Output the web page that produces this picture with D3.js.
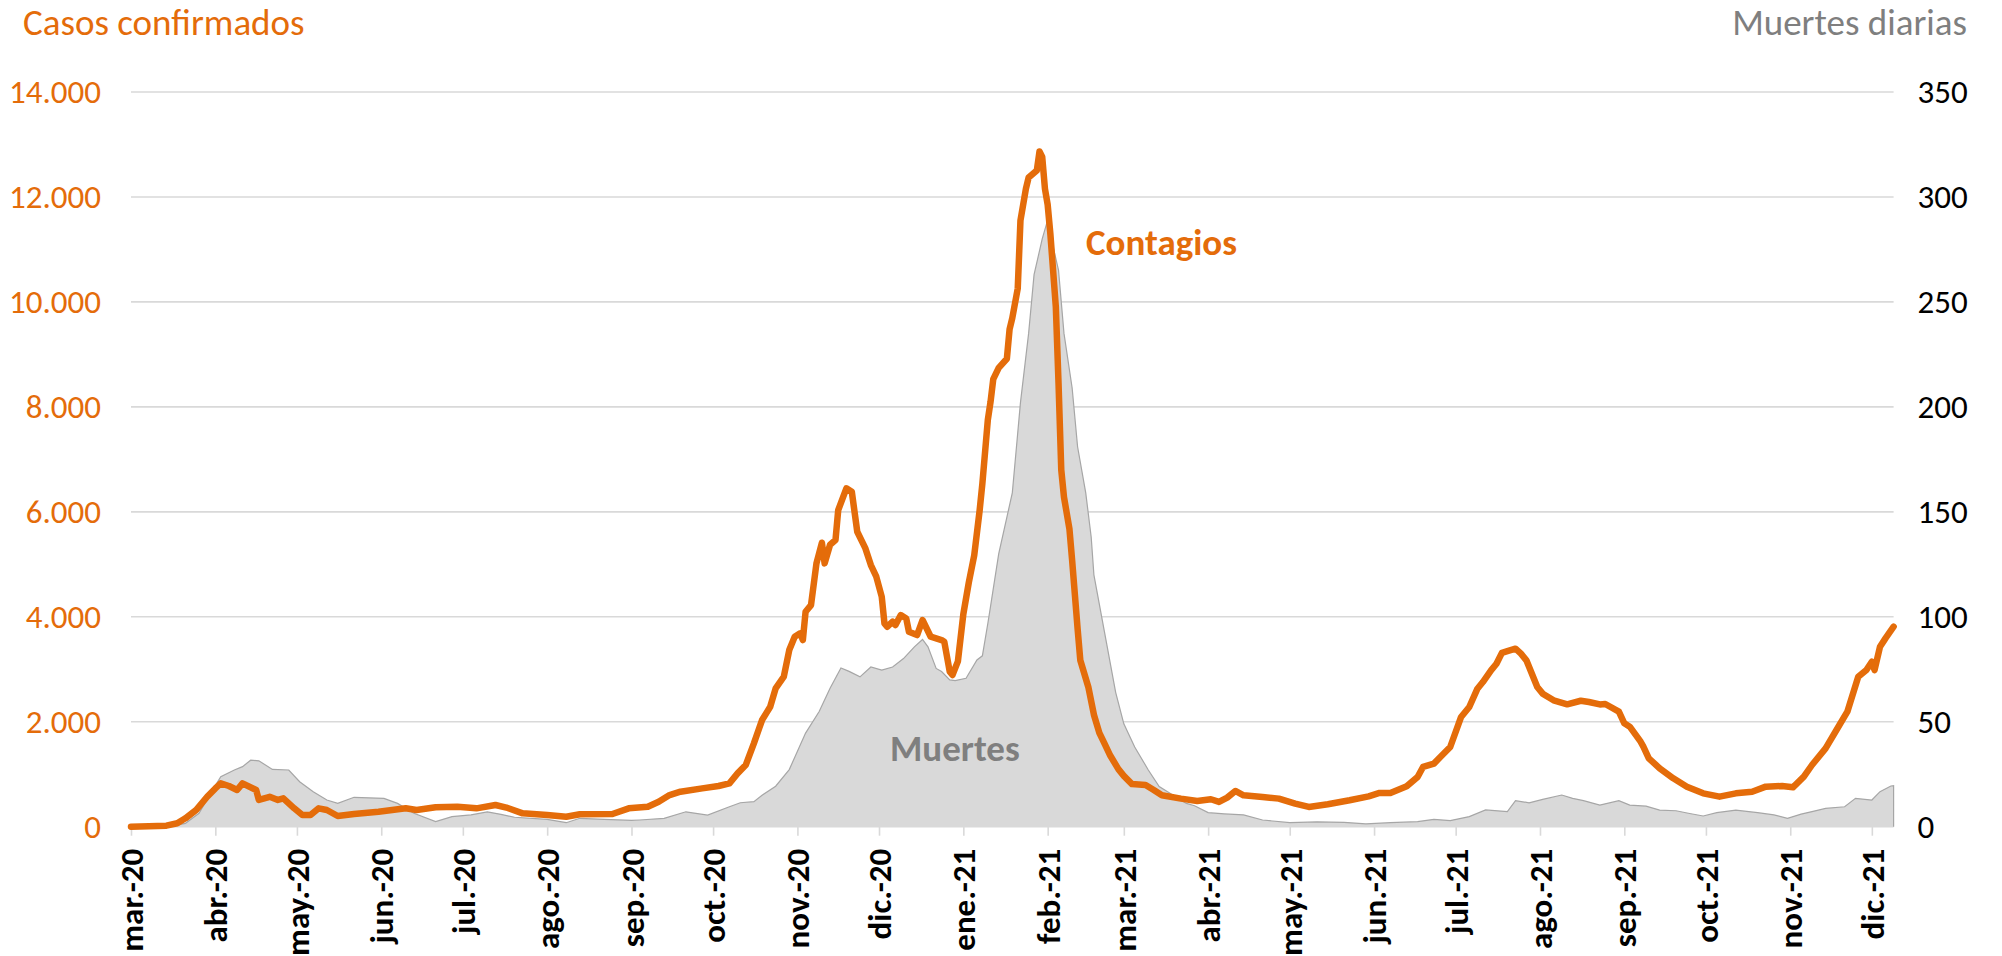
<!DOCTYPE html>
<html>
<head>
<meta charset="utf-8">
<script src="https://cdn.jsdelivr.net/npm/d3@7"></script>
<style>
  body { margin: 0; background: #fff; }
  svg { display: block; }
  text { font-family: Carlito, Calibri, Lato, sans-serif; }
</style>
</head>
<body>
<svg id="chart" width="2002" height="956"></svg>
<script>
/* ── DATA ── */
const MONTHS_ES = ['ene.', 'feb.', 'mar.', 'abr.', 'may.', 'jun.', 'jul.', 'ago.', 'sep.', 'oct.', 'nov.', 'dic.'];
const Y_LEFT_TICKS  = [0, 2000, 4000, 6000, 8000, 10000, 12000, 14000];
const Y_RIGHT_TICKS = [0, 50, 100, 150, 200, 250, 300, 350];
const START_DATE = '2020-03-01';
const END_DATE   = '2021-12-09';

const CASE_DATES = [
  '2020-03-01','2020-03-14','2020-03-18','2020-03-21','2020-03-25','2020-03-29','2020-04-01','2020-04-03','2020-04-06','2020-04-09',
  '2020-04-11','2020-04-16','2020-04-17','2020-04-21','2020-04-24','2020-04-26','2020-04-30','2020-05-03','2020-05-06','2020-05-09',
  '2020-05-12','2020-05-16','2020-05-22','2020-05-31','2020-06-10','2020-06-14','2020-06-21','2020-06-29','2020-07-06','2020-07-13',
  '2020-07-17','2020-07-23','2020-08-01','2020-08-08','2020-08-13','2020-08-25','2020-08-31','2020-09-07','2020-09-11','2020-09-15',
  '2020-09-19','2020-09-27','2020-10-03','2020-10-07','2020-10-10','2020-10-13','2020-10-16','2020-10-19','2020-10-22','2020-10-24',
  '2020-10-27','2020-10-29','2020-10-31','2020-11-02','2020-11-03','2020-11-04','2020-11-06','2020-11-08','2020-11-10','2020-11-11',
  '2020-11-13','2020-11-15','2020-11-16','2020-11-19','2020-11-21','2020-11-23','2020-11-26','2020-11-28','2020-11-30','2020-12-02',
  '2020-12-03','2020-12-04','2020-12-06','2020-12-07','2020-12-09','2020-12-11','2020-12-12','2020-12-15','2020-12-17','2020-12-20',
  '2020-12-24','2020-12-25','2020-12-27','2020-12-28','2020-12-30','2021-01-01','2021-01-03','2021-01-05','2021-01-07','2021-01-08',
  '2021-01-10','2021-01-11','2021-01-12','2021-01-14','2021-01-17','2021-01-18','2021-01-19','2021-01-21','2021-01-22','2021-01-24',
  '2021-01-25','2021-01-28','2021-01-29','2021-01-30','2021-01-31','2021-02-01','2021-02-02','2021-02-04','2021-02-05','2021-02-06',
  '2021-02-07','2021-02-09','2021-02-10','2021-02-12','2021-02-13','2021-02-16','2021-02-18','2021-02-20','2021-02-22','2021-02-24',
  '2021-02-27','2021-03-01','2021-03-04','2021-03-09','2021-03-12','2021-03-15','2021-03-22','2021-03-28','2021-04-02','2021-04-05',
  '2021-04-08','2021-04-11','2021-04-14','2021-04-21','2021-04-27','2021-05-03','2021-05-08','2021-05-15','2021-05-23','2021-05-30',
  '2021-06-03','2021-06-07','2021-06-13','2021-06-17','2021-06-19','2021-06-23','2021-06-26','2021-06-29','2021-07-03','2021-07-06',
  '2021-07-09','2021-07-11','2021-07-14','2021-07-16','2021-07-18','2021-07-20','2021-07-23','2021-07-25','2021-07-27','2021-07-31',
  '2021-08-02','2021-08-06','2021-08-11','2021-08-16','2021-08-19','2021-08-23','2021-08-25','2021-08-30','2021-09-01','2021-09-03',
  '2021-09-07','2021-09-08','2021-09-10','2021-09-14','2021-09-19','2021-09-24','2021-09-30','2021-10-06','2021-10-12','2021-10-18',
  '2021-10-23','2021-10-29','2021-11-02','2021-11-06','2021-11-09','2021-11-14','2021-11-18','2021-11-22','2021-11-26','2021-11-29',
  '2021-12-01','2021-12-02','2021-12-04','2021-12-06','2021-12-09'
];
const CASES = [
  0, 20, 65, 160, 320, 570, 730, 826, 775, 700,
  826, 700, 510, 570, 510, 540, 350, 223, 223, 350,
  318, 204, 242, 286, 350, 318, 370, 381, 350, 413,
  365, 255, 223, 190, 236, 242, 350, 381, 476, 603,
  667, 730, 775, 826, 1016, 1175, 1588, 2032, 2286, 2636,
  2858, 3366, 3619, 3684, 3557, 4096, 4223, 5018, 5411, 5018,
  5373, 5462, 6033, 6447, 6382, 5620, 5303, 4985, 4763, 4382,
  3874, 3810, 3906, 3842, 4033, 3969, 3715, 3652, 3938, 3620,
  3557, 3525, 2953, 2890, 3150, 4050, 4650, 5170, 6030, 6540,
  7750, 8096, 8528, 8744, 8916, 9478, 9694, 10256, 11552, 12156,
  12372, 12502, 12865, 12761, 12156, 11854, 11292, 9910, 8441, 6800,
  6281, 5676, 5071, 3776, 3171, 2652, 2134, 1788, 1572, 1356,
  1097, 968, 812, 795, 700, 598, 535, 491, 523, 472,
  554, 681, 598, 566, 535, 440, 376, 427, 503, 579,
  643, 643, 770, 948, 1138, 1202, 1361, 1519, 2091, 2281,
  2630, 2757, 2979, 3106, 3313, 3344, 3392, 3297, 3170, 2662,
  2535, 2408, 2332, 2400, 2376, 2330, 2338, 2192, 1970, 1906,
  1620, 1525, 1303, 1113, 922, 763, 636, 572, 636, 667,
  763, 775, 750, 953, 1176, 1493, 1842, 2192, 2858, 2985,
  3144, 2985, 3430, 3589, 3811
];

const DEATH_DATES = [
  '2020-03-01','2020-03-15','2020-03-21','2020-03-26','2020-03-31','2020-04-03','2020-04-08','2020-04-11','2020-04-14','2020-04-17',
  '2020-04-22','2020-04-28','2020-05-02','2020-05-07','2020-05-12','2020-05-16','2020-05-22','2020-06-02','2020-06-07','2020-06-13',
  '2020-06-21','2020-06-27','2020-07-04','2020-07-10','2020-07-15','2020-07-20','2020-08-01','2020-08-08','2020-08-13','2020-08-22',
  '2020-09-01','2020-09-04','2020-09-13','2020-09-21','2020-09-29','2020-10-07','2020-10-11','2020-10-16','2020-10-19','2020-10-24',
  '2020-10-29','2020-11-04','2020-11-09','2020-11-13','2020-11-17','2020-11-20','2020-11-24','2020-11-28','2020-12-02','2020-12-06',
  '2020-12-10','2020-12-14','2020-12-17','2020-12-19','2020-12-22','2020-12-24','2020-12-27','2020-12-29','2021-01-02','2021-01-06',
  '2021-01-08','2021-01-10','2021-01-11','2021-01-14','2021-01-19','2021-01-22','2021-01-25','2021-01-27','2021-01-30','2021-02-01',
  '2021-02-02','2021-02-05','2021-02-07','2021-02-10','2021-02-12','2021-02-15','2021-02-17','2021-02-18','2021-02-22','2021-02-26',
  '2021-03-01','2021-03-05','2021-03-10','2021-03-14','2021-03-19','2021-03-24','2021-03-27','2021-04-01','2021-04-07','2021-04-14',
  '2021-04-21','2021-05-01','2021-05-11','2021-05-21','2021-05-29','2021-06-07','2021-06-17','2021-06-23','2021-06-29','2021-07-06',
  '2021-07-12','2021-07-20','2021-07-23','2021-07-28','2021-08-02','2021-08-09','2021-08-13','2021-08-17','2021-08-23','2021-08-30',
  '2021-09-03','2021-09-09','2021-09-14','2021-09-20','2021-09-25','2021-09-30','2021-10-05','2021-10-12','2021-10-20','2021-10-26',
  '2021-10-31','2021-11-05','2021-11-09','2021-11-14','2021-11-21','2021-11-25','2021-12-01','2021-12-04','2021-12-08','2021-12-09'
];
const DEATHS = [
  0, 0, 1.6, 6.4, 17.5, 23.8, 27, 28.6, 31.7, 31.4,
  27.3, 27, 21.4, 16.7, 12.7, 11.1, 14, 13.5, 11.1, 6.4,
  2.4, 4.8, 5.6, 7.1, 5.9, 4.5, 3.5, 1.9, 4, 3.5,
  3, 3.2, 4, 7.1, 5.5, 9.5, 11.4, 11.9, 15, 19.3,
  27.2, 44.6, 54.9, 66, 75.6, 74, 71.4, 76.1, 74.6, 76.1,
  80.1, 85.7, 89.2, 85.7, 75.4, 73.9, 69.9, 69.6, 70.7, 79.4,
  81.4, 96.8, 105, 130, 159, 202, 235, 263, 280, 289,
  282, 265, 235, 209, 181, 159, 138, 120, 92, 64,
  49, 38, 27, 19.1, 15.1, 11.1, 10, 6.7, 6.1, 5.6,
  3.2, 1.9, 2.3, 2.1, 1.3, 1.9, 2.4, 3.5, 2.9, 4.8,
  8, 7.2, 12.4, 11.4, 13, 15.1, 13.5, 12.4, 10.3, 12.4,
  10.3, 9.8, 7.9, 7.6, 6.3, 5.1, 6.7, 7.9, 6.7, 5.6,
  4, 6, 7.2, 8.7, 9.5, 13.5, 12.7, 16.7, 19.4, 19.5
];

/* ── STYLE ── */
const ORANGE = '#E46C0A';
const GREY_TXT = '#7F7F7F';
const GRID = '#D9D9D9';
const FONT = 'Carlito, Calibri, Lato, sans-serif';
const PLOT = { left: 131, right: 1893.6, top: 92, bottom: 826.7 };

const parse = d3.utcParse('%Y-%m-%d');
const svg = d3.select('#chart');

const x = d3.scaleUtc().domain([parse(START_DATE), parse(END_DATE)]).range([PLOT.left, PLOT.right]);
const yL = d3.scaleLinear().domain([0, 14000]).range([PLOT.bottom, PLOT.top]);
const yR = d3.scaleLinear().domain([0, 350]).range([PLOT.bottom, PLOT.top]);

const cases  = CASE_DATES.map((d, i) => ({ date: parse(d), v: CASES[i] }));
const deaths = DEATH_DATES.map((d, i) => ({ date: parse(d), v: DEATHS[i] }));

const loc = d3.formatLocale({ decimal: ',', thousands: '.', grouping: [3], currency: ['', ' €'] });
const fmtThousands = loc.format(',');

/* gridlines */
svg.append('g').selectAll('line').data(Y_LEFT_TICKS).join('line')
  .attr('x1', PLOT.left).attr('x2', PLOT.right)
  .attr('y1', d => yL(d)).attr('y2', d => yL(d))
  .attr('stroke', GRID).attr('stroke-width', 1.6);

/* deaths area */
svg.append('path').datum(deaths)
  .attr('fill', '#D9D9D9')
  .attr('d', d3.area().x(d => x(d.date)).y0(PLOT.bottom).y1(d => yR(d.v)));
const lastDeath = deaths[deaths.length - 1];
svg.append('path').datum(deaths.concat([{ date: lastDeath.date, v: 0 }]))
  .attr('fill', 'none').attr('stroke', '#A6A6A6').attr('stroke-width', 1.2)
  .attr('d', d3.line().x(d => x(d.date)).y(d => yR(d.v)));

/* x axis */
const months = d3.utcMonth.range(parse(START_DATE), parse(END_DATE));
const xAxis = svg.append('g').attr('transform', `translate(0,${PLOT.bottom})`)
  .call(d3.axisBottom(x).tickValues(months).tickSize(9)
    .tickFormat(d => MONTHS_ES[d.getUTCMonth()] + '-' + String(d.getUTCFullYear()).slice(2)));
xAxis.select('.domain').remove();
xAxis.selectAll('line').attr('stroke', GRID).attr('stroke-width', 1.6);
xAxis.selectAll('text')
  .attr('transform', 'rotate(-90)')
  .attr('text-anchor', 'end').attr('x', -22).attr('y', 0).attr('dy', '0.35em')
  .style('font-family', FONT)
  .style('font-size', '33px').style('font-weight', 'bold').attr('fill', '#000');

/* left axis */
const leftAx = svg.append('g').attr('transform', `translate(${PLOT.left},0)`)
  .call(d3.axisLeft(yL).tickValues(Y_LEFT_TICKS).tickSize(0).tickPadding(30).tickFormat(fmtThousands));
leftAx.select('.domain').remove();
leftAx.selectAll('text').style('font-family', FONT)
  .style('font-size', '33px').attr('fill', ORANGE);

/* right axis */
const rightAx = svg.append('g').attr('transform', `translate(${PLOT.right},0)`)
  .call(d3.axisRight(yR).tickValues(Y_RIGHT_TICKS).tickSize(0).tickPadding(24));
rightAx.select('.domain').remove();
rightAx.selectAll('text').style('font-family', FONT)
  .style('font-size', '33px').attr('fill', '#000');

/* cases line */
svg.append('path').datum(cases)
  .attr('fill', 'none').attr('stroke', ORANGE).attr('stroke-width', 6.5)
  .attr('stroke-linejoin', 'round').attr('stroke-linecap', 'round')
  .attr('d', d3.line().x(d => x(d.date)).y(d => yL(d.v)));

/* titles */
svg.append('text').attr('x', 23).attr('y', 35)
  .style('font-size', '37px').attr('fill', ORANGE).text('Casos confirmados');
svg.append('text').attr('x', 1967).attr('y', 35).attr('text-anchor', 'end')
  .style('font-size', '37px').attr('fill', GREY_TXT).text('Muertes diarias');

/* annotations */
svg.append('text').attr('x', 1086).attr('y', 255)
  .style('font-size', '37px').style('font-weight', 'bold').attr('fill', ORANGE).text('Contagios');
svg.append('text').attr('x', 890).attr('y', 761)
  .style('font-size', '37px').style('font-weight', 'bold').attr('fill', GREY_TXT).text('Muertes');
</script>
</body>
</html>
